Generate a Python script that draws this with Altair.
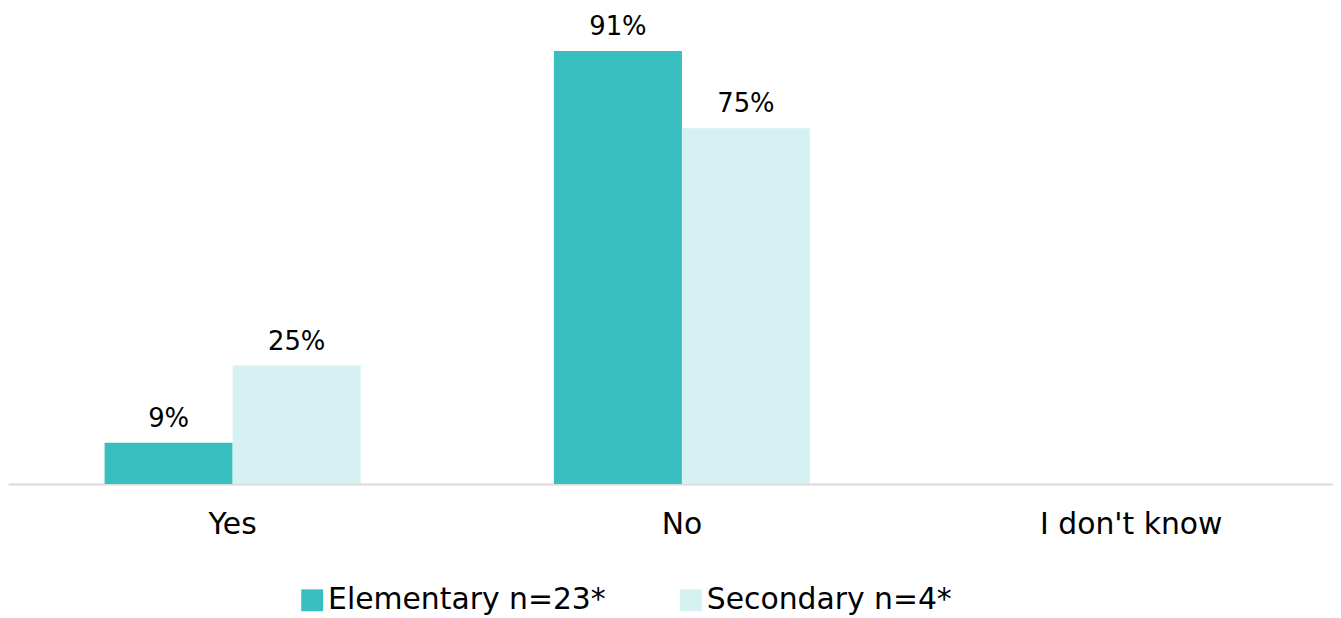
import altair as alt
import pandas as pd

categories = ["Yes", "No", "I don't know"]
series = ["Elementary n=23*", "Secondary n=4*"]
elementary = [8.7, 91.3, None]
secondary = [25, 75, None]
colors = ["#38BEBF", "#D5F1F1"]

rows = []
for i, c in enumerate(categories):
    for s, vals in zip(series, [elementary, secondary]):
        if vals[i] is not None:
            rows.append({"category": c, "series": s, "value": vals[i]})
df = pd.DataFrame(rows)

FONT = "DejaVu Sans"

x = alt.X("category:N", sort=categories, title=None,
          scale=alt.Scale(domain=categories, paddingInner=0.43, paddingOuter=0.215, range=[0, 1356]),
          axis=alt.Axis(labelAngle=0, labelFontSize=30, labelColor="#000000", labelFont=FONT,
                        labelPadding=26, ticks=False, domainColor="#D9D9D9", domainWidth=2,
                        labelLimit=0))
y = alt.Y("value:Q", scale=alt.Scale(domain=[0, 100]), axis=None)

base = alt.Chart(df).encode(
    x=x,
    xOffset=alt.XOffset("series:N", sort=series),
    y=y,
)

bars = base.mark_bar().encode(
    color=alt.Color("series:N", sort=series,
                    scale=alt.Scale(domain=series, range=colors),
                    legend=alt.Legend(title=None, orient="none", legendX=291, legendY=579,
                                      direction="horizontal", symbolType="square",
                                      symbolSize=484, symbolStrokeWidth=0,
                                      labelFontSize=30, labelFont=FONT, labelColor="#000000",
                                      labelLimit=0, columnPadding=70, symbolOffset=0,
                                      labelOffset=1))
)

labels = base.mark_text(fontSize=26, font=FONT, color="#000000", baseline="alphabetic",
                        dy=-16).transform_calculate(
    lab="format(datum.value, '.0f') + '%'"
).encode(text="lab:N")

chart = (bars + labels).properties(
    width=1333, height=477,
    padding={"left": 0, "top": 0, "right": 0, "bottom": 133},
    autosize="none"
).configure_view(stroke=None).configure_legend(padding=0)

chart.save("out.html", embed_options={"renderer": "svg", "actions": False})
